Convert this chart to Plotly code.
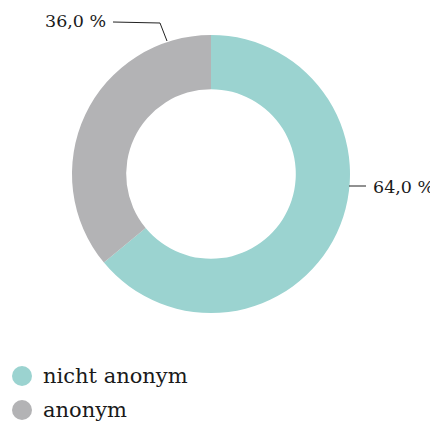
import plotly.graph_objects as go

categories = ["nicht anonym", "anonym"]
values = [64.0, 36.0]
colors = ["#9bd3d0", "#b3b3b5"]
label_texts = ["64,0 %", "36,0 %"]

W, H = 438, 422
OFF = 8  # page body margin offset
FONT = "DejaVu Serif"

def px(x): return (x - OFF) / W
def py(y): return 1 - (y - OFF) / H

fig = go.Figure()
fig.add_trace(go.Pie(
    labels=categories, values=values, hole=0.61, sort=False,
    direction="clockwise", rotation=0,
    marker=dict(colors=colors, line=dict(width=0)),
    textinfo="none", hoverinfo="label+percent", showlegend=False,
    domain=dict(x=[px(72), px(350)], y=[py(313), py(35)]),
))

# outside labels with leader lines
fig.add_shape(type="path", xref="paper", yref="paper",
              path=f"M {px(349)} {py(186)} L {px(366)} {py(186)}",
              line=dict(color="#222222", width=1))
fig.add_shape(type="path", xref="paper", yref="paper",
              path=f"M {px(113)} {py(22)} L {px(160)} {py(23)} L {px(167)} {py(41)}",
              line=dict(color="#222222", width=1))
fig.add_annotation(x=px(371), y=py(187), xref="paper", yref="paper",
                   text=label_texts[0], showarrow=False, xanchor="left", yanchor="middle",
                   font=dict(family=FONT, size=17.5, color="#1a1a1a"))
fig.add_annotation(x=px(108), y=py(21), xref="paper", yref="paper",
                   text=label_texts[1], showarrow=False, xanchor="right", yanchor="middle",
                   font=dict(family=FONT, size=17.5, color="#1a1a1a"))

# legend (circle markers + labels)
leg_y = [376, 410]
for cat, col, yy in zip(categories, colors, leg_y):
    fig.add_shape(type="circle", xref="paper", yref="paper",
                  x0=px(12), x1=px(32), y0=py(yy + 10), y1=py(yy - 10),
                  fillcolor=col, line=dict(width=0))
    fig.add_annotation(x=px(41), y=py(yy), xref="paper", yref="paper",
                       text=cat, showarrow=False, xanchor="left", yanchor="middle",
                       font=dict(family=FONT, size=21, color="#1a1a1a"))

fig.update_layout(
    width=W, height=H, margin=dict(l=0, r=0, t=0, b=0, autoexpand=False),
    paper_bgcolor="white", plot_bgcolor="white",
    showlegend=False,
    font=dict(family=FONT),
)
fig.write_html("out.html")
